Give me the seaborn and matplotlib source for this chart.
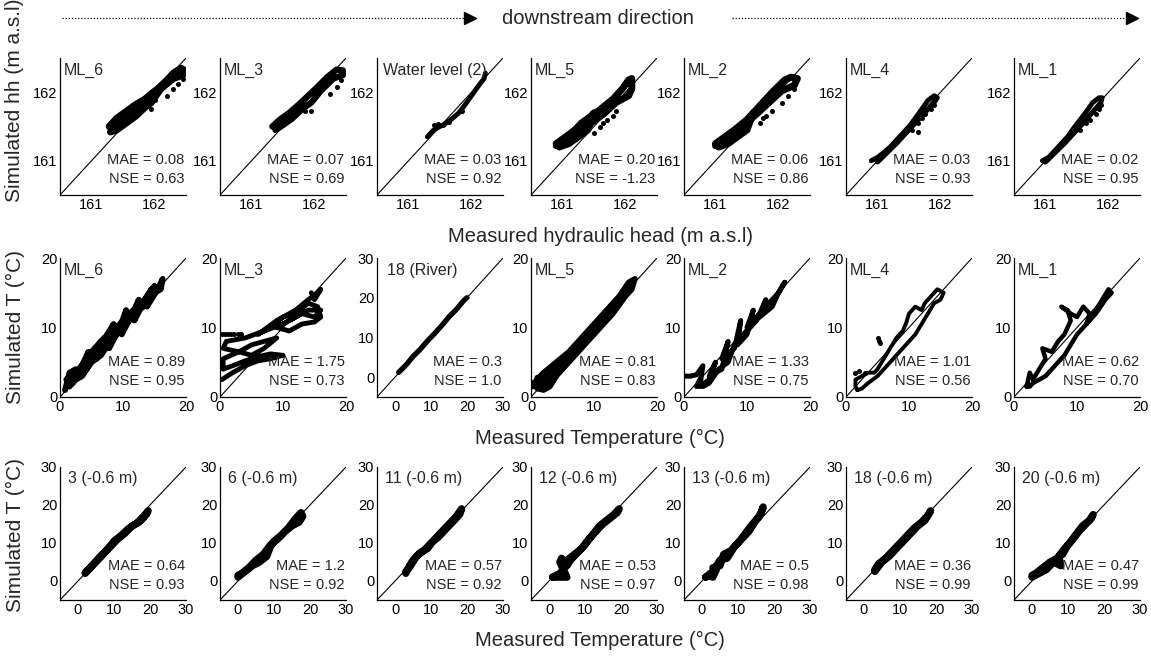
import matplotlib
matplotlib.use("Agg")
import matplotlib.pyplot as plt
import seaborn as sns
import pandas as pd

sns.set_style("white")
plt.rcParams['font.family'] = ['Liberation Sans', 'DejaVu Sans']

# ---------------- DATA ----------------
# Row 1: hydraulic head (m a.s.l)
hh_labels = ["ML_6", "ML_3", "Water level (2)", "ML_5", "ML_2", "ML_4", "ML_1"]
hh_mae = ["0.08", "0.07", "0.03", "0.20", "0.06", "0.03", "0.02"]
hh_nse = ["0.63", "0.69", "0.92", "-1.23", "0.86", "0.93", "0.95"]
hh_ticks = [161, 162]
hh_lim = [160.5, 162.5]

hh_ml6_meas = [161.28, 161.4, 161.55, 161.7, 161.85, 161.95, 162.05, 162.2, 162.3, 162.42, 162.48, 162.45, 162.3, 162.1, 161.95, 161.85, 161.7, 161.55, 161.4, 161.3, 161.5, 161.7, 161.85, 161.6, 161.4]
hh_ml6_sim = [161.5, 161.62, 161.72, 161.82, 161.9, 161.98, 162.05, 162.18, 162.28, 162.35, 162.32, 162.25, 162.2, 162.05, 161.85, 161.78, 161.65, 161.55, 161.45, 161.42, 161.62, 161.75, 161.85, 161.65, 161.52]
hh_ml6_dots_m = [161.95, 162.0, 162.2, 162.3, 162.38, 162.45]
hh_ml6_dots_s = [161.75, 161.88, 161.95, 162.05, 162.12, 162.2]

hh_ml3_meas = [161.33, 161.45, 161.6, 161.75, 161.9, 162.05, 162.2, 162.35, 162.45, 162.45, 162.3, 162.1, 161.95, 161.8, 161.65, 161.5, 161.38, 161.55, 161.7, 161.5]
hh_ml3_sim = [161.5, 161.6, 161.7, 161.82, 161.95, 162.08, 162.22, 162.33, 162.32, 162.25, 162.2, 162.02, 161.85, 161.75, 161.62, 161.52, 161.45, 161.65, 161.75, 161.58]
hh_ml3_dots_m = [161.85, 161.95, 162.25, 162.35, 162.42]
hh_ml3_dots_s = [161.72, 161.72, 161.98, 162.08, 162.18]

hh_wl_meas = [161.3, 161.4, 161.5, 161.6, 161.7, 161.8, 161.9, 162.0, 162.1, 162.2, 162.22]
hh_wl_sim = [161.35, 161.45, 161.5, 161.55, 161.62, 161.7, 161.82, 161.95, 162.08, 162.2, 162.28]
hh_wl_dots_m = [161.4, 161.47, 161.55, 161.65, 161.85]
hh_wl_dots_s = [161.52, 161.53, 161.52, 161.56, 161.72]

hh_ml5_meas = [160.9, 161.0, 161.15, 161.3, 161.45, 161.5, 161.4, 161.25, 161.1, 160.95, 160.9, 161.2, 161.4, 161.6, 161.8, 161.95, 162.05, 162.1, 162.1, 162.05, 161.85, 161.65, 161.45, 161.25, 161.05, 161.2, 161.4, 161.3, 161.1]
hh_ml5_sim = [161.22, 161.3, 161.4, 161.55, 161.65, 161.7, 161.45, 161.35, 161.25, 161.2, 161.25, 161.45, 161.6, 161.75, 161.9, 162.05, 162.18, 162.2, 162.05, 161.95, 161.85, 161.68, 161.55, 161.4, 161.27, 161.32, 161.5, 161.45, 161.3]
hh_ml5_dots_m = [161.5, 161.6, 161.65, 161.7, 161.8, 161.85]
hh_ml5_dots_s = [161.4, 161.5, 161.55, 161.6, 161.65, 161.72]

hh_ml2_meas = [161.0, 161.1, 161.25, 161.4, 161.55, 161.6, 161.5, 161.35, 161.2, 161.05, 161.0, 161.3, 161.5, 161.7, 161.9, 162.1, 162.2, 162.3, 162.25, 162.05, 161.85, 161.65, 161.45, 161.25, 161.1, 161.3, 161.5]
hh_ml2_sim = [161.22, 161.3, 161.4, 161.5, 161.6, 161.7, 161.45, 161.35, 161.25, 161.2, 161.25, 161.45, 161.6, 161.8, 162.0, 162.18, 162.22, 162.2, 162.1, 162.02, 161.85, 161.68, 161.52, 161.38, 161.28, 161.36, 161.52]
hh_ml2_dots_m = [161.7, 161.75, 161.8, 161.9, 162.05, 162.15, 162.25]
hh_ml2_dots_s = [161.55, 161.62, 161.65, 161.72, 161.85, 161.95, 162.05]

hh_ml4_meas = [160.9, 161.0, 161.1, 161.2, 161.3, 161.4, 161.5, 161.6, 161.7, 161.8, 161.9, 161.95, 161.9, 161.6, 161.3, 161.0]
hh_ml4_sim = [161.0, 161.05, 161.12, 161.2, 161.3, 161.4, 161.5, 161.62, 161.75, 161.88, 161.95, 161.92, 161.85, 161.55, 161.25, 160.98]
hh_ml4_dots_m = [161.55, 161.65, 161.7, 161.75, 161.85, 161.9, 161.65]
hh_ml4_dots_s = [161.45, 161.55, 161.62, 161.68, 161.75, 161.82, 161.42]

hh_ml1_meas = [160.95, 161.05, 161.15, 161.25, 161.35, 161.45, 161.55, 161.65, 161.75, 161.85, 161.9, 161.88, 161.6, 161.3, 161.0]
hh_ml1_sim = [161.0, 161.05, 161.15, 161.25, 161.35, 161.48, 161.6, 161.72, 161.85, 161.92, 161.92, 161.85, 161.55, 161.25, 160.98]
hh_ml1_dots_m = [161.55, 161.65, 161.7, 161.8, 161.85, 161.88]
hh_ml1_dots_s = [161.45, 161.55, 161.6, 161.68, 161.75, 161.82]

# Row 2: temperature in multilevel wells / river
t_labels = ["ML_6", "ML_3", "18 (River)", "ML_5", "ML_2", "ML_4", "ML_1"]
t_mae = ["0.89", "1.75", "0.3", "0.81", "1.33", "1.01", "0.62"]
t_nse = ["0.95", "0.73", "1.0", "0.83", "0.75", "0.56", "0.70"]

t_ml6_meas = [0.8, 1.5, 2.5, 2.0, 3.5, 4.5, 3.8, 5.5, 6.5, 5.8, 7.5, 8.5, 7.8, 9.5, 10.5, 9.8, 11.5, 12.5, 11.8, 13.5, 14.5, 13.8, 15.5, 16.3, 16.0, 15.0, 14.0, 12.5, 11.0, 9.5, 8.0, 6.5, 5.0, 3.5, 2.5, 1.5, 1.0, 3.0, 5.0, 7.0, 9.0, 11.0, 13.0, 15.0]
t_ml6_sim = [1.0, 3.5, 4.0, 2.0, 4.5, 6.5, 3.5, 6.0, 8.0, 5.5, 9.0, 10.5, 7.0, 10.0, 12.5, 9.0, 12.0, 14.0, 11.0, 14.0, 15.5, 13.0, 15.5, 17.0, 15.5, 15.0, 13.5, 12.5, 11.0, 9.5, 8.0, 6.0, 5.0, 3.0, 2.5, 1.5, 2.5, 4.0, 6.5, 8.5, 10.0, 12.0, 13.5, 16.0]

t_ml3_meas = [0.3, 2, 4, 6, 8, 10, 8, 6, 4, 2, 0.5, 0.5, 3, 5, 7, 9, 7, 5, 3, 0.5, 1, 4, 7, 10, 12, 14, 16, 15, 13, 11, 9, 11, 13, 15, 16, 15.5, 14, 12, 10, 8, 6, 9, 12, 14, 15.5, 16, 15, 14.5]
t_ml3_sim = [2.5, 3.5, 4.5, 5.2, 5.5, 6.0, 6.2, 5.8, 5.2, 4.5, 4.0, 5.5, 6.5, 7.5, 8.0, 8.5, 7.0, 6.0, 6.5, 7.0, 8.0, 8.5, 9.5, 10.5, 11.5, 12.5, 12.5, 11.5, 12.0, 11.0, 10.0, 9.5, 10.5, 10.8, 11.5, 13.0, 13.5, 12.0, 11.5, 10.0, 9.0, 11.0, 12.5, 14.0, 15.0, 15.5, 14.0, 15.0]
t_ml3_dots_m = [0.3, 0.8, 1.3, 1.8, 2.3, 2.8, 3.3]
t_ml3_dots_s = [9.0, 9.0, 9.0, 9.0, 9.0, 9.0, 9.0]

t_river_meas = [1, 3, 5, 7, 9, 11, 13, 15, 17, 19, 20]
t_river_sim = [1.2, 3.0, 5.2, 7.0, 9.1, 11.0, 13.0, 15.2, 17.0, 19.2, 20.0]

t_ml5_meas = [0.2, 1, 2, 3, 4, 3, 2, 1, 0.5, 2, 4, 6, 8, 10, 12, 14, 15.5, 16.5, 16, 15, 13, 11, 9, 7, 5, 3.5, 2.5, 1, 0.3, 2, 4, 6, 8, 10, 12, 14, 16, 3, 1, 2.5]
t_ml5_sim = [1.5, 2.5, 3.5, 4.0, 3.0, 1.5, 1.0, 1.2, 2.0, 3.5, 5.0, 6.5, 8.5, 10.5, 12.5, 14.5, 16.5, 17.0, 15.5, 14.5, 12.0, 10.0, 8.0, 6.0, 4.0, 2.5, 2.0, 1.5, 2.0, 2.5, 4.0, 5.5, 7.5, 9.5, 11.5, 13.5, 16.0, 3.0, 2.8, 1.8]

t_ml2_meas = [0, 1, 2, 3, 2.5, 4, 5, 4, 6, 7, 6, 8, 9, 8.5, 10, 11, 10, 12, 13, 12, 14, 15, 16, 15, 13, 11.5, 10, 8, 7, 5.5, 4, 3, 2.5, 2]
t_ml2_sim = [3, 3, 3.2, 4.5, 1.5, 2.5, 5, 3, 4, 8, 5.5, 7, 11, 7.5, 9, 12.5, 10, 12, 14, 11.5, 13, 15, 16.5, 15, 13, 11, 9.5, 7.5, 5, 4, 2, 1.5, 2.5, 1.5]

t_ml4_meas = [1.8, 2.5, 3.5, 5, 6, 7, 8, 9, 10, 11, 12, 13, 14, 15, 15.5, 14.5, 13.5, 12.5, 12, 11, 10, 9.5, 9, 8, 7, 6, 5, 4.5, 3.5, 2.5, 1.5, 1.5, 1.8]
t_ml4_sim = [1.0, 1.2, 2.0, 3.0, 4.0, 5.0, 6.0, 7.0, 8.0, 9.0, 10.5, 12.0, 13.5, 14.0, 15.0, 15.5, 14.5, 13.5, 12.5, 13.0, 12.0, 10.5, 9.5, 8.5, 7.0, 5.5, 4.0, 3.5, 3.5, 3.0, 2.5, 1.5, 1.0]
t_ml4_dots_m = [5.0, 5.2, 5.4, 1.5, 2.0, 3.0]
t_ml4_dots_s = [8.5, 8.1, 7.7, 3.5, 3.7, 3.5]

t_ml1_meas = [2, 2.5, 3, 4, 5, 4.5, 6, 7, 8, 9, 8.5, 7.5, 9, 10, 11, 12, 11.5, 13, 14, 15, 15.5, 14.5, 13, 12, 11, 10, 9, 8, 7, 6, 5, 4, 3, 2.5, 2]
t_ml1_sim = [1.5, 3.5, 2.5, 4.0, 5.5, 7.0, 6.5, 8.0, 9.0, 11.0, 12.5, 13.0, 12.0, 11.5, 13.0, 12.0, 10.5, 12.5, 14.0, 15.5, 15.0, 14.0, 12.0, 11.0, 10.0, 9.0, 7.5, 6.0, 5.0, 4.0, 3.0, 2.5, 2.0, 1.5, 1.5]

# Row 3: temperature at -0.6 m
s_labels = ["3 (-0.6 m)", "6 (-0.6 m)", "11 (-0.6 m)", "12 (-0.6 m)", "13 (-0.6 m)", "18 (-0.6 m)", "20 (-0.6 m)"]
s_mae = ["0.64", "1.2", "0.57", "0.53", "0.5", "0.36", "0.47"]
s_nse = ["0.93", "0.92", "0.92", "0.97", "0.98", "0.99", "0.99"]

s3_meas = [2, 4, 6, 8, 10, 12, 14, 16, 18, 19.5, 19, 17, 15, 13, 11, 9, 7, 5, 3, 2]
s3_sim = [2.2, 4.2, 6.3, 8.2, 10.5, 12.0, 13.8, 15.0, 16.5, 18.5, 17.5, 15.5, 14.5, 12.5, 11.0, 9.0, 7.0, 5.0, 3.0, 2.0]
s6_meas = [0, 2, 4, 6, 8, 9, 10, 12, 14, 16, 17.5, 18, 17, 15, 13, 11, 9, 7, 5, 3, 1, 0]
s6_sim = [1.0, 2.5, 4.0, 5.0, 6.5, 9.0, 10.5, 12.0, 14.0, 16.5, 18.0, 17.0, 15.5, 14.5, 13.0, 11.0, 9.5, 7.0, 5.5, 3.5, 2.0, 1.5]
s11_meas = [3, 4, 5, 7, 9, 11, 13, 15, 17, 18.5, 18, 16, 14, 12, 10, 8, 6, 4, 3]
s11_sim = [2.0, 4.0, 5.5, 7.5, 8.5, 11.0, 13.0, 15.0, 17.0, 19.0, 17.5, 15.5, 13.5, 11.5, 10.0, 8.0, 6.5, 3.5, 2.5]
s12_meas = [1, 2, 3, 4, 5, 4, 3, 3.5, 5, 6, 8, 10, 12, 14, 16, 18, 19.5, 19, 17, 15, 13, 11, 9, 7, 5, 4, 3, 2, 1]
s12_sim = [1.0, 1.0, 1.0, 1.0, 1.0, 3.0, 5.0, 6.0, 4.0, 5.5, 7.5, 9.5, 12.0, 14.5, 16.0, 17.5, 19.0, 18.0, 16.5, 15.0, 13.0, 11.0, 8.5, 7.0, 5.5, 3.0, 2.0, 1.5, 1.0]
s13_meas = [1, 2, 3, 4, 3, 5, 6, 8, 10, 12, 14, 16, 17, 16.5, 15, 13, 11, 9, 7, 5, 3, 1]
s13_sim = [1.0, 1.5, 1.0, 3.0, 3.5, 4.0, 7.0, 8.0, 10.0, 12.5, 15.0, 17.0, 19.5, 18.0, 16.0, 13.0, 11.0, 9.0, 6.0, 5.5, 2.5, 1.0]
s18_meas = [3, 5, 7, 9, 11, 13, 15, 17, 18.5, 18, 16, 14, 12, 10, 8, 6, 4, 3]
s18_sim = [2.5, 5.0, 6.5, 8.5, 10.5, 12.5, 14.5, 16.0, 18.5, 17.5, 15.5, 14.0, 12.0, 10.0, 8.0, 6.0, 4.5, 3.0]
s20_meas = [0, 2, 4, 6, 8, 7.5, 8.5, 10, 12, 14, 16, 17, 16.5, 15, 13, 11, 9, 7, 5, 3, 1, 0]
s20_sim = [1.0, 2.0, 3.0, 5.0, 4.0, 6.5, 7.0, 9.5, 12.0, 14.5, 16.0, 17.5, 16.5, 15.0, 13.0, 10.5, 8.5, 6.0, 5.0, 3.5, 2.0, 1.5]

t_lim_20 = [0, 20]
t_lim_30 = [-5, 30]
t_ticks_20 = [0, 10, 20]
t_ticks_30 = [0, 10, 20, 30]

# ---------------- LAYOUT ----------------
W, H = 1151, 657
fig = plt.figure(figsize=(W / 100, H / 100), dpi=100)

col_left = [60, 220, 377, 531, 684, 846, 1014]
col_w = 126
row_tb = [(58, 195), (258, 397), (467, 600)]


def make_ax(r, c):
    t, b = row_tb[r]
    return fig.add_axes([col_left[c] / W, 1 - b / H, col_w / W, (b - t) / H])


def draw_panel(ax, meas, sim, lw, lim, ticks, label, mae, nse, dots=None, lab_x=0.03):
    lo, hi = lim
    sns.lineplot(x=[lo, hi], y=[lo, hi], ax=ax, color="black", lw=0.8,
                 sort=False, estimator=None)
    df = pd.DataFrame({"meas": meas, "sim": sim})
    sns.lineplot(data=df, x="meas", y="sim", ax=ax, color="black", lw=lw,
                 sort=False, estimator=None, solid_joinstyle="round",
                 solid_capstyle="round")
    if dots is not None:
        sns.scatterplot(x=dots[0], y=dots[1], ax=ax, color="black", s=13,
                        edgecolor="black", linewidth=0)
    ax.set_xlim(lo, hi)
    ax.set_ylim(lo, hi)
    ax.set_xticks(ticks)
    ax.set_yticks(ticks)
    ax.set_xlabel("")
    ax.set_ylabel("")
    for s in ["top", "right"]:
        ax.spines[s].set_visible(False)
    for s in ["left", "bottom"]:
        ax.spines[s].set_color("black")
        ax.spines[s].set_linewidth(0.9)
    ax.tick_params(direction="in", length=2.5, width=0.8, labelsize=10.5,
                   pad=2, colors="black")
    ax.text(lab_x, 0.91, label, transform=ax.transAxes, fontsize=11.5,
            va="center", ha="left")
    ax.text(0.99, 0.255, f"MAE = {mae}", transform=ax.transAxes,
            fontsize=10.5, va="center", ha="right")
    ax.text(0.99, 0.115, f"NSE = {nse}", transform=ax.transAxes,
            fontsize=10.5, va="center", ha="right")


hh_series = [
    (hh_ml6_meas, hh_ml6_sim, 5.0, (hh_ml6_dots_m, hh_ml6_dots_s)),
    (hh_ml3_meas, hh_ml3_sim, 4.5, (hh_ml3_dots_m, hh_ml3_dots_s)),
    (hh_wl_meas, hh_wl_sim, 3.5, (hh_wl_dots_m, hh_wl_dots_s)),
    (hh_ml5_meas, hh_ml5_sim, 5.0, (hh_ml5_dots_m, hh_ml5_dots_s)),
    (hh_ml2_meas, hh_ml2_sim, 5.0, (hh_ml2_dots_m, hh_ml2_dots_s)),
    (hh_ml4_meas, hh_ml4_sim, 3.5, (hh_ml4_dots_m, hh_ml4_dots_s)),
    (hh_ml1_meas, hh_ml1_sim, 3.5, (hh_ml1_dots_m, hh_ml1_dots_s)),
]
for c, (m, s, lw, d) in enumerate(hh_series):
    ax = make_ax(0, c)
    draw_panel(ax, m, s, lw, hh_lim, hh_ticks, hh_labels[c], hh_mae[c], hh_nse[c],
               dots=d, lab_x=0.03 if c != 2 else 0.05)

t_series = [
    (t_ml6_meas, t_ml6_sim, 4.2, None, t_lim_20, t_ticks_20),
    (t_ml3_meas, t_ml3_sim, 3.5, (t_ml3_dots_m, t_ml3_dots_s), t_lim_20, t_ticks_20),
    (t_river_meas, t_river_sim, 3.8, None, t_lim_30, t_ticks_30),
    (t_ml5_meas, t_ml5_sim, 4.0, None, t_lim_20, t_ticks_20),
    (t_ml2_meas, t_ml2_sim, 3.6, None, t_lim_20, t_ticks_20),
    (t_ml4_meas, t_ml4_sim, 2.8, (t_ml4_dots_m, t_ml4_dots_s), t_lim_20, t_ticks_20),
    (t_ml1_meas, t_ml1_sim, 3.2, None, t_lim_20, t_ticks_20),
]
for c, (m, s, lw, d, lim, tk) in enumerate(t_series):
    ax = make_ax(1, c)
    draw_panel(ax, m, s, lw, lim, tk, t_labels[c], t_mae[c], t_nse[c],
               dots=d, lab_x=0.03 if c != 2 else 0.08)

s_series = [
    (s3_meas, s3_sim), (s6_meas, s6_sim), (s11_meas, s11_sim), (s12_meas, s12_sim),
    (s13_meas, s13_sim), (s18_meas, s18_sim), (s20_meas, s20_sim),
]
for c, (m, s) in enumerate(s_series):
    ax = make_ax(2, c)
    draw_panel(ax, m, s, 5.2, t_lim_30, t_ticks_30, s_labels[c], s_mae[c], s_nse[c],
               lab_x=0.06)

# ---------------- FIGURE TEXT ----------------
fig.text(15 / W, 1 - 100 / H, "Simulated hh (m a.s.l)", rotation=90,
         fontsize=15, va="center", ha="center")
fig.text(15 / W, 1 - 327 / H, "Simulated T (°C)", rotation=90,
         fontsize=15, va="center", ha="center")
fig.text(15 / W, 1 - 535 / H, "Simulated T (°C)", rotation=90,
         fontsize=15, va="center", ha="center")
fig.text(600 / W, 1 - 236 / H, "Measured hydraulic head (m a.s.l)",
         fontsize=14.5, va="center", ha="center")
fig.text(600 / W, 1 - 438 / H, "Measured Temperature (°C)",
         fontsize=14.5, va="center", ha="center")
fig.text(600 / W, 1 - 640 / H, "Measured Temperature (°C)",
         fontsize=14.5, va="center", ha="center")
fig.text(598 / W, 1 - 18 / H, "downstream direction",
         fontsize=14.5, va="center", ha="center")

ov = fig.add_axes([0, 0, 1, 1], facecolor="none")
ov.set_xlim(0, W)
ov.set_ylim(H, 0)
ov.axis("off")
for x0, x1 in [(62, 466), (732, 1128)]:
    ov.plot([x0, x1], [18, 18], color="black", lw=0.9, ls=(0, (1, 1.5)))
    ov.plot([x1 + 4], [18], marker=">", color="black", markersize=9, lw=0)

fig.savefig("out.png", dpi=100, facecolor="white")
